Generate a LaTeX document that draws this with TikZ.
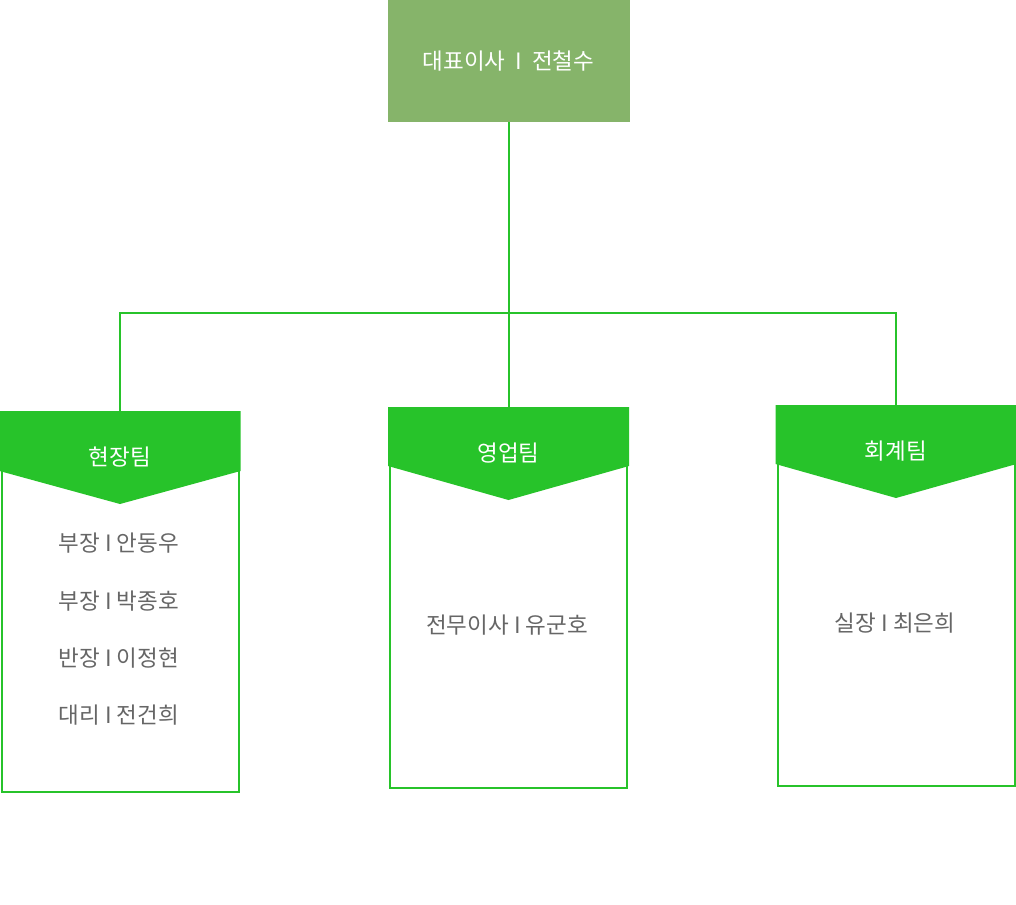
\documentclass[tikz,border=0pt]{standalone}
\usepackage{fontspec}
\setmainfont{Noto Sans CJK KR}
\usepackage{tikz}
\usetikzlibrary{positioning}

\definecolor{ceogreen}{HTML}{86B46A}
\definecolor{teamgreen}{HTML}{27C32A}
\definecolor{textgray}{HTML}{666666}

\begin{document}
\begin{tikzpicture}[x=1pt, y=-1pt, every node/.style={font=\fontsize{22.5}{27}\selectfont},
    link/.style={draw=teamgreen, line width=2pt},
    card/.style={draw=teamgreen, line width=2pt, fill=white, minimum width=237pt, minimum height=379pt, inner sep=0pt},
    teamname/.style={text=white},
    member/.style={text=textgray}]
        \useasboundingbox (0,0) rectangle (1016,904);

        % CEO
        \node (CEO) [fill=ceogreen, text=white, minimum width=242pt, minimum height=122pt, inner sep=0pt] at (508.5,61) {대표이사 \ I \ 전철수};

        % Team cards
        \node (Field) [card] at (120,602.5) {};
        \node (Sales) [card] at (508.5,598.5) {};
        \node (Account) [card] at (896,596.5) {};

        % Headers
        \fill[teamgreen] ([xshift=-1pt,yshift=1pt]Field.north west) -- ([xshift=1pt,yshift=1pt]Field.north east) -- ([xshift=1pt,yshift=-59pt]Field.north east) -- ([yshift=-92pt]Field.north) -- ([xshift=-1pt,yshift=-59pt]Field.north west) -- cycle;
        \fill[teamgreen] ([xshift=-1pt,yshift=1pt]Sales.north west) -- ([xshift=1pt,yshift=1pt]Sales.north east) -- ([xshift=1pt,yshift=-58pt]Sales.north east) -- ([yshift=-92pt]Sales.north) -- ([xshift=-1pt,yshift=-58pt]Sales.north west) -- cycle;
        \fill[teamgreen] ([xshift=-1pt,yshift=1pt]Account.north west) -- ([xshift=1pt,yshift=1pt]Account.north east) -- ([xshift=1pt,yshift=-58pt]Account.north east) -- ([yshift=-92pt]Account.north) -- ([xshift=-1pt,yshift=-58pt]Account.north west) -- cycle;

        \node (FieldName) [teamname] at ([yshift=-45pt]Field.north) {현장팀};
        \node (SalesName) [teamname] at ([yshift=-45pt]Sales.north) {영업팀};
        \node (AccountName) [teamname] at ([yshift=-45pt]Account.north) {회계팀};

        % Members
        \node (FieldA) [member] at (119,543) {부장 I 안동우};
        \node (FieldB) [member] at (119,601) {부장 I 박종호};
        \node (FieldC) [member] at (119,658) {반장 I 이정현};
        \node (FieldD) [member] at (119,715) {대리 I 전건희};
        \node (SalesA) [member] at (507,625) {전무이사 I 유군호};
        \node (AccountA) [member] at (895,623) {실장 I 최은희};

        % Links
        \coordinate (Hub) at (508.5,313);
        \draw[link] (CEO) -- (Hub);
        \draw[link] (Hub) -| (Field.north);
        \draw[link] (Hub) -- (Sales.north);
        \draw[link] (Hub) -| (Account.north);
    \end{tikzpicture}
\end{document}
